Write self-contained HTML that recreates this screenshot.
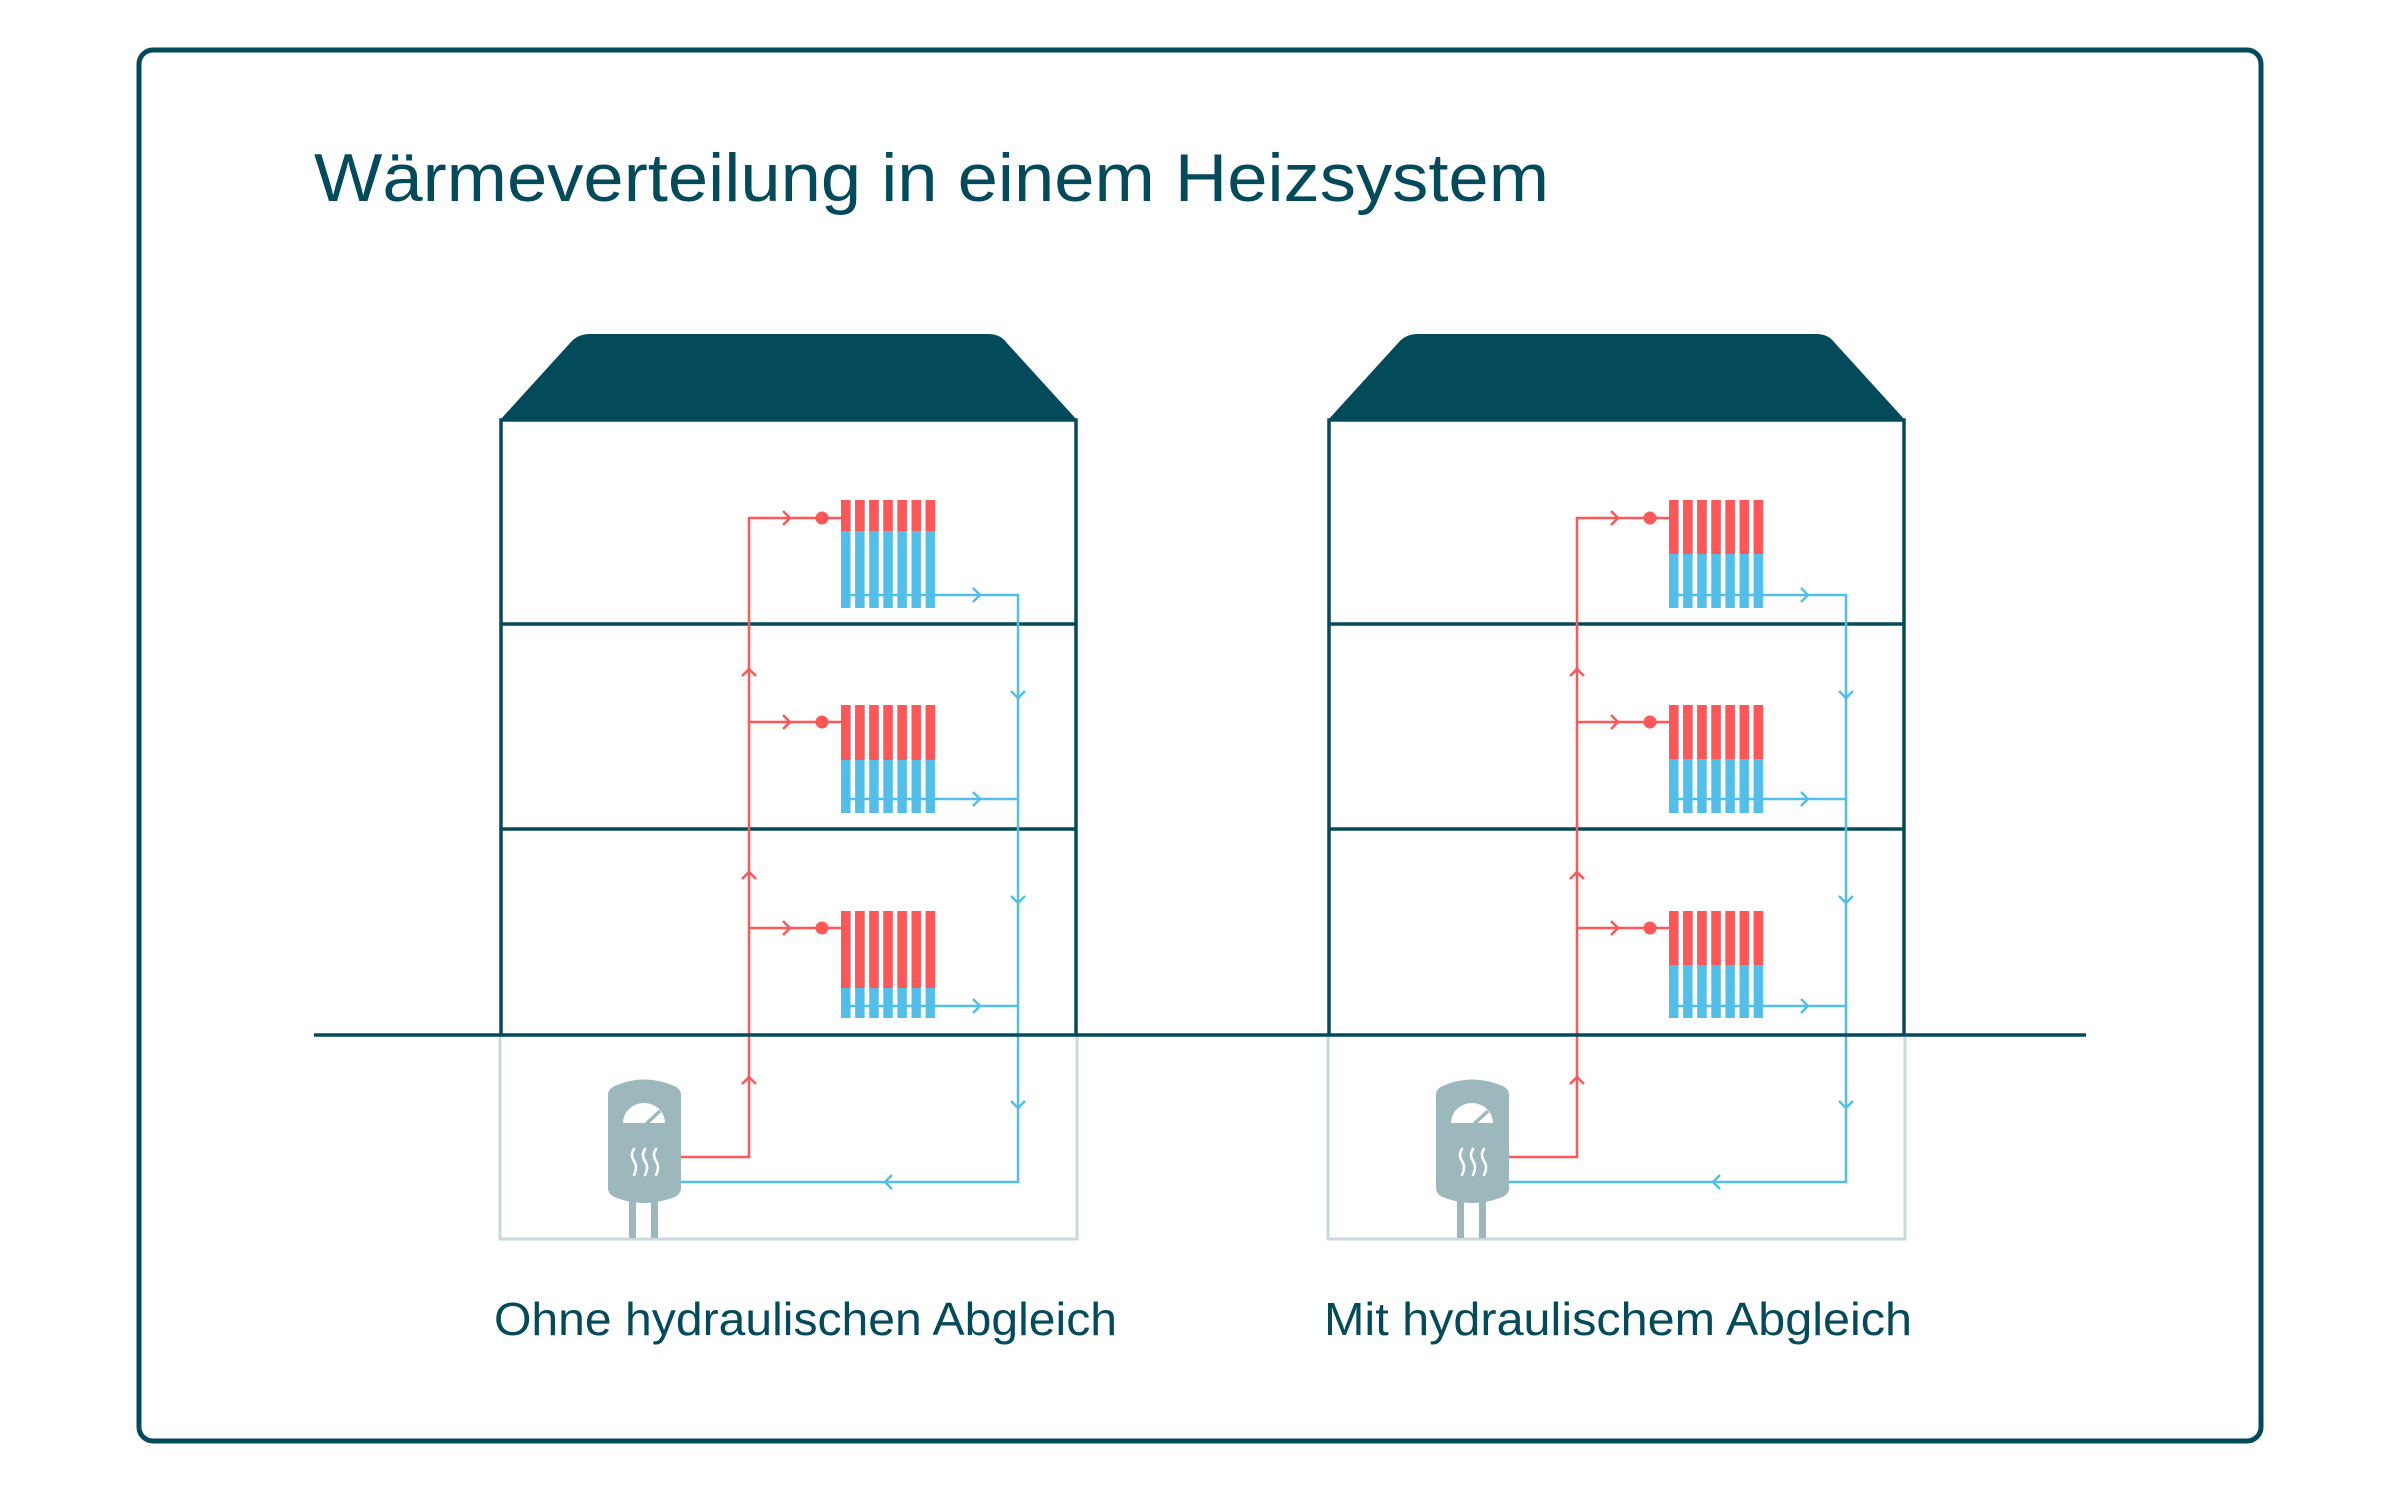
<!DOCTYPE html>
<html><head><meta charset="utf-8"><style>html,body{margin:0;padding:0;background:#fff}svg{display:block}</style></head>
<body>
<svg width="2400" height="1492" viewBox="0 0 2400 1492" xmlns="http://www.w3.org/2000/svg" font-family="Liberation Sans, sans-serif">
<defs>
<pattern id="pb" patternUnits="userSpaceOnUse" x="841" y="0" width="14.1" height="2000"><rect x="0" y="0" width="9.5" height="2000" fill="#52bfeb"/></pattern>
<pattern id="pr" patternUnits="userSpaceOnUse" x="841" y="0" width="14.1" height="2000"><rect x="0" y="0" width="9.5" height="2000" fill="#ff5757"/></pattern>
<g id="boiler">
<rect x="629" y="1195" width="7" height="43" fill="#9db8bd"/>
<rect x="651" y="1195" width="7" height="43" fill="#9db8bd"/>
<path d="M608,1095 Q608,1088 617,1085 Q644,1074 672,1085 Q681,1088 681,1095 L681,1188 Q681,1195 672,1198 Q644,1208 617,1198 Q608,1195 608,1188Z" fill="#9db8bd"/>
<path d="M623,1123 A21,20 0 0 1 665,1123 Z" fill="#fff"/>
<line x1="646" y1="1124" x2="660" y2="1111" stroke="#9db8bd" stroke-width="3.5"/>
<g fill="none" stroke="#fff" stroke-width="2.5" stroke-linecap="round">
<path d="M634,1149 q-4,6 0,12 q4,6 0,14"/><path d="M645,1149 q-4,6 0,12 q4,6 0,14"/><path d="M656,1149 q-4,6 0,12 q4,6 0,14"/>
</g>
</g>
<g id="pipes" fill="none" stroke-width="2.5">
<g stroke="#ff5757">
<polyline points="681,1157 749,1157 749,518 841,518"/>
<line x1="749" y1="722" x2="841" y2="722"/>
<line x1="749" y1="928" x2="841" y2="928"/>
<polyline points="783,511 790,518 783,525"/><polyline points="783,715 790,722 783,729"/><polyline points="783,921 790,928 783,935"/>
<polyline points="742,676 749,669 756,676"/><polyline points="742,879 749,872 756,879"/><polyline points="742,1084 749,1077 756,1084"/>
</g>
<g fill="#ff5757"><ellipse cx="822" cy="518" rx="6.5" ry="6.5"/><ellipse cx="822" cy="722" rx="6.5" ry="6.5"/><ellipse cx="822" cy="928" rx="6.5" ry="6.5"/></g>
<g stroke="#52bfeb">
<polyline points="681,1182 1018,1182 1018,595 849,595"/>
<line x1="849" y1="799" x2="1018" y2="799"/>
<line x1="849" y1="1006" x2="1018" y2="1006"/>
<polyline points="973,588 980,595 973,602"/><polyline points="973,792 980,799 973,806"/><polyline points="973,999 980,1006 973,1013"/>
<polyline points="1011,691 1018,698 1025,691"/><polyline points="1011,896 1018,903 1025,896"/><polyline points="1011,1101 1018,1108 1025,1101"/>
<polyline points="892,1175 885,1182 892,1189"/>
</g>
</g>
<g id="house">
<rect x="500" y="1035" width="577" height="204" fill="none" stroke="#c9dadd" stroke-width="3"/>
<path d="M500,420 L571,342 Q578,334 590,334 L988,334 Q1000,334 1006,342 L1077,420 Z" fill="#034a5a"/>
<polyline points="501,1035 501,420 1076,420 1076,1035" fill="none" stroke="#034a5a" stroke-width="3.5"/>
<line x1="501" y1="624" x2="1076" y2="624" stroke="#034a5a" stroke-width="3.5"/>
<line x1="501" y1="829" x2="1076" y2="829" stroke="#034a5a" stroke-width="3.5"/>
<use href="#boiler"/>
</g>
</defs>
<rect x="139" y="50" width="2122" height="1391" rx="14" fill="none" stroke="#034a5a" stroke-width="5"/>
<text x="314" y="201" font-size="68" fill="#034a5a" textLength="1235" lengthAdjust="spacingAndGlyphs">Wärmeverteilung in einem Heizsystem</text>

<use href="#house"/>
<rect x="841" y="500" width="95" height="108" fill="url(#pb)"/>
<rect x="841" y="500" width="95" height="31" fill="url(#pr)"/>
<rect x="841" y="705" width="95" height="108" fill="url(#pb)"/>
<rect x="841" y="705" width="95" height="55" fill="url(#pr)"/>
<rect x="841" y="911" width="95" height="107" fill="url(#pb)"/>
<rect x="841" y="911" width="95" height="77" fill="url(#pr)"/>
<use href="#pipes"/>

<g transform="translate(828,0)">
<use href="#house"/>
<rect x="841" y="500" width="95" height="108" fill="url(#pb)"/>
<rect x="841" y="500" width="95" height="54" fill="url(#pr)"/>
<rect x="841" y="705" width="95" height="108" fill="url(#pb)"/>
<rect x="841" y="705" width="95" height="54" fill="url(#pr)"/>
<rect x="841" y="911" width="95" height="107" fill="url(#pb)"/>
<rect x="841" y="911" width="95" height="54" fill="url(#pr)"/>
<use href="#pipes"/>
</g>

<line x1="314" y1="1035" x2="2086" y2="1035" stroke="#034a5a" stroke-width="3.5"/>

<text x="494" y="1335" font-size="46" fill="#034a5a" textLength="623" lengthAdjust="spacingAndGlyphs">Ohne hydraulischen Abgleich</text>
<text x="1324" y="1335" font-size="46" fill="#034a5a" textLength="588" lengthAdjust="spacingAndGlyphs">Mit hydraulischem Abgleich</text>
</svg>
</body></html>
